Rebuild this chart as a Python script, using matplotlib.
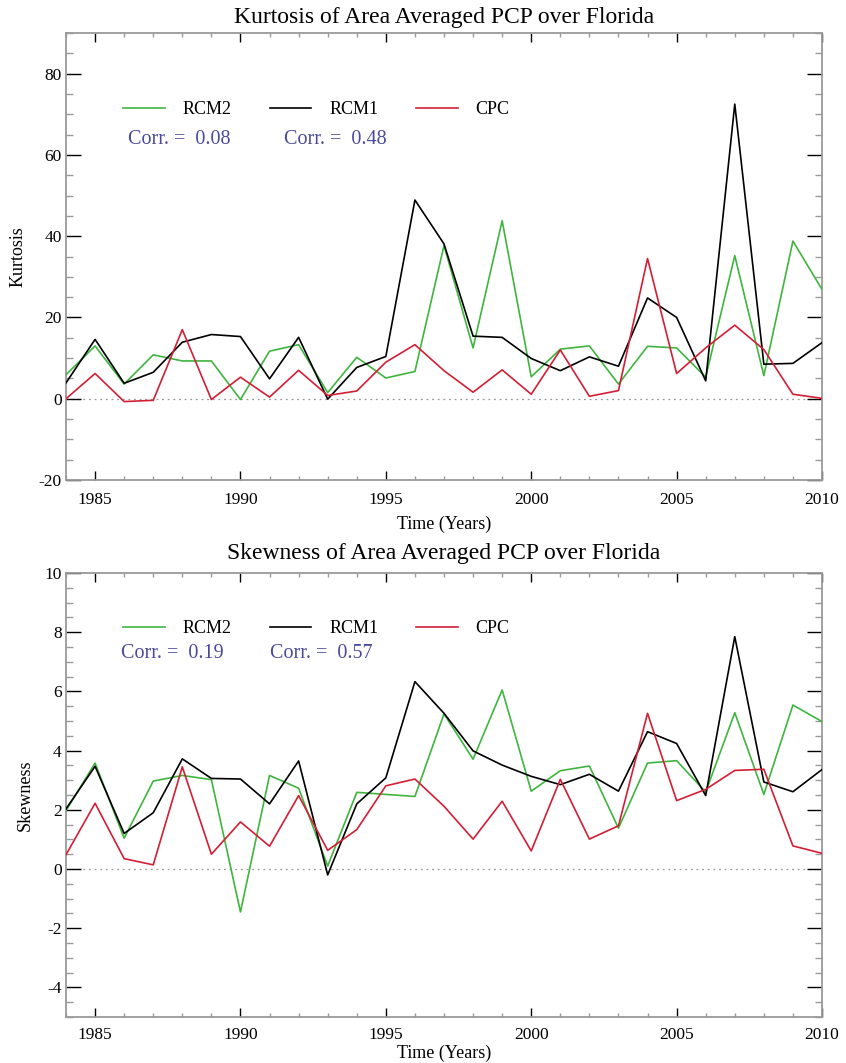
import matplotlib
matplotlib.use("Agg")
import matplotlib.pyplot as plt
from matplotlib.ticker import MultipleLocator

plt.rcParams['font.family'] = ['Liberation Serif', 'DejaVu Serif']
plt.rcParams['axes.unicode_minus'] = False

years = list(range(1984, 2011))

kurt_rcm2 = [5.9, 13.0, 3.6, 10.8, 9.3, 9.3, -0.2, 11.7, 13.3, 1.5, 10.2, 5.1, 6.7, 37.7,
             12.5, 43.8, 5.4, 12.2, 13.0, 3.6, 12.9, 12.5, 5.3, 35.2, 5.7, 38.8, 26.9]
kurt_rcm1 = [3.9, 14.6, 3.8, 6.5, 13.9, 15.8, 15.3, 4.9, 15.1, -0.1, 7.7, 10.4, 48.9, 38.1,
             15.4, 15.1, 9.9, 6.9, 10.3, 8.0, 24.8, 20.0, 4.4, 72.5, 8.5, 8.7, 13.8]
kurt_cpc = [0.0, 6.2, -0.7, -0.4, 17.0, -0.2, 5.3, 0.4, 7.0, 0.8, 1.9, 9.0, 13.3, 6.9,
            1.6, 7.1, 1.1, 12.0, 0.6, 2.0, 34.5, 6.2, 12.5, 18.1, 12.1, 1.1, 0.1]

skew_rcm2 = [1.97, 3.58, 1.04, 2.97, 3.16, 3.02, -1.45, 3.16, 2.73, 0.10, 2.59, 2.52, 2.45, 5.24,
             3.71, 6.05, 2.63, 3.32, 3.48, 1.38, 3.58, 3.66, 2.60, 5.28, 2.52, 5.54, 4.98]
skew_rcm1 = [2.03, 3.47, 1.20, 1.90, 3.72, 3.06, 3.04, 2.20, 3.65, -0.20, 2.20, 3.08, 6.33, 5.26,
             3.99, 3.51, 3.13, 2.85, 3.20, 2.63, 4.64, 4.24, 2.48, 7.85, 2.94, 2.61, 3.36]
skew_cpc = [0.48, 2.22, 0.35, 0.14, 3.45, 0.50, 1.59, 0.77, 2.48, 0.63, 1.33, 2.81, 3.04, 2.12,
            1.01, 2.29, 0.61, 3.03, 1.01, 1.46, 5.26, 2.31, 2.69, 3.33, 3.37, 0.78, 0.53]

series_names = ['RCM2', 'RCM1', 'CPC']
corr_kurt = ['0.08', '0.48']
corr_skew = ['0.19', '0.57']

C_GREEN = '#3fb53f'
C_BLACK = '#000000'
C_RED = '#d21f35'
C_BLUE = '#4a4a9c'
C_FRAME = '#9a9a9a'

W, H = 846, 1063
fig = plt.figure(figsize=(W / 100, H / 100), dpi=100)

def px_axes(left, top, right, bottom):
    return fig.add_axes([left / W, 1 - bottom / H, (right - left) / W, (bottom - top) / H])

ax1 = px_axes(66, 33, 822, 480)
ax2 = px_axes(66, 573, 822, 1017)


def style(ax, ylim, ymaj, ymin, xlab_pad):
    ax.set_xlim(1984, 2010)
    ax.set_ylim(*ylim)
    ax.xaxis.set_major_locator(MultipleLocator(5))
    ax.xaxis.set_minor_locator(MultipleLocator(1))
    ax.yaxis.set_major_locator(MultipleLocator(ymaj))
    ax.yaxis.set_minor_locator(MultipleLocator(ymin))
    ax.tick_params(which='both', direction='in', top=True, right=True, labelsize=12.5)
    ax.tick_params(axis='y', which='major', length=11, width=1.0, color='black', pad=3)
    ax.tick_params(axis='y', which='minor', length=5, width=1.0, color=C_FRAME)
    ax.tick_params(axis='x', which='major', length=6.5, width=1.0, color='black', pad=xlab_pad)
    ax.tick_params(axis='x', which='minor', length=3, width=1.0, color=C_FRAME)
    for t in ax.yaxis.get_major_ticks() + ax.xaxis.get_major_ticks():
        t.tick2line.set_color(C_FRAME)
    for s in ax.spines.values():
        s.set_color(C_FRAME)
        s.set_linewidth(1.3)
    ax.axhline(0, color='#999999', lw=0.9, ls=(0, (1.5, 3)), zorder=1)


def draw(ax, r2, r1, cpc, corr, title, ylabel, leg_y, corr_x, corr_y, title_y, xlabel_y, ylabel_x):
    l2, = ax.plot(years, r2, color=C_GREEN, lw=1.2, zorder=3)
    l1, = ax.plot(years, r1, color=C_BLACK, lw=1.2, zorder=3)
    l3, = ax.plot(years, cpc, color=C_RED, lw=1.2, zorder=4)
    ax.legend([l2, l1, l3], series_names, ncol=3, frameon=False, loc='upper left',
              bbox_to_anchor=(0.0754, leg_y), borderpad=0, borderaxespad=0,
              handlelength=2.3, handletextpad=1.0, columnspacing=2.1, fontsize=13)
    for cx, cv in zip(corr_x, corr):
        ax.text(cx, corr_y, 'Corr. =  ' + cv, transform=ax.transAxes, color=C_BLUE,
                fontsize=14.5, ha='left', va='center')
    ax.text(0.5, title_y, title, transform=ax.transAxes, ha='center', va='center', fontsize=17)
    ax.text(0.5, xlabel_y, 'Time (Years)', transform=ax.transAxes, ha='center', va='center', fontsize=13)
    ax.text(ylabel_x, 0.5, ylabel, transform=ax.transAxes, ha='center', va='center',
            rotation=90, fontsize=13)


style(ax1, (-20, 90), 20, 5, 9)
style(ax2, (-5, 10), 2, 0.5, 7)

draw(ax1, kurt_rcm2, kurt_rcm1, kurt_cpc, corr_kurt,
     'Kurtosis of Area Averaged PCP over Florida', 'Kurtosis',
     leg_y=(480 - 101) / 447, corr_x=[(128 - 66) / 756, (284 - 66) / 756],
     corr_y=(480 - 139) / 447, title_y=1 + (33 - 18) / 447,
     xlabel_y=(480 - 524) / 447, ylabel_x=(18 - 66) / 756)

draw(ax2, skew_rcm2, skew_rcm1, skew_cpc, corr_skew,
     'Skewness of Area Averaged PCP over Florida', 'Skewness',
     leg_y=(1017 - 620) / 444, corr_x=[(121 - 66) / 756, (270 - 66) / 756],
     corr_y=(1017 - 653) / 444, title_y=1 + (573 - 553) / 444,
     xlabel_y=(1017 - 1053) / 444, ylabel_x=(25 - 66) / 756)

fig.savefig('out.png', dpi=100)
